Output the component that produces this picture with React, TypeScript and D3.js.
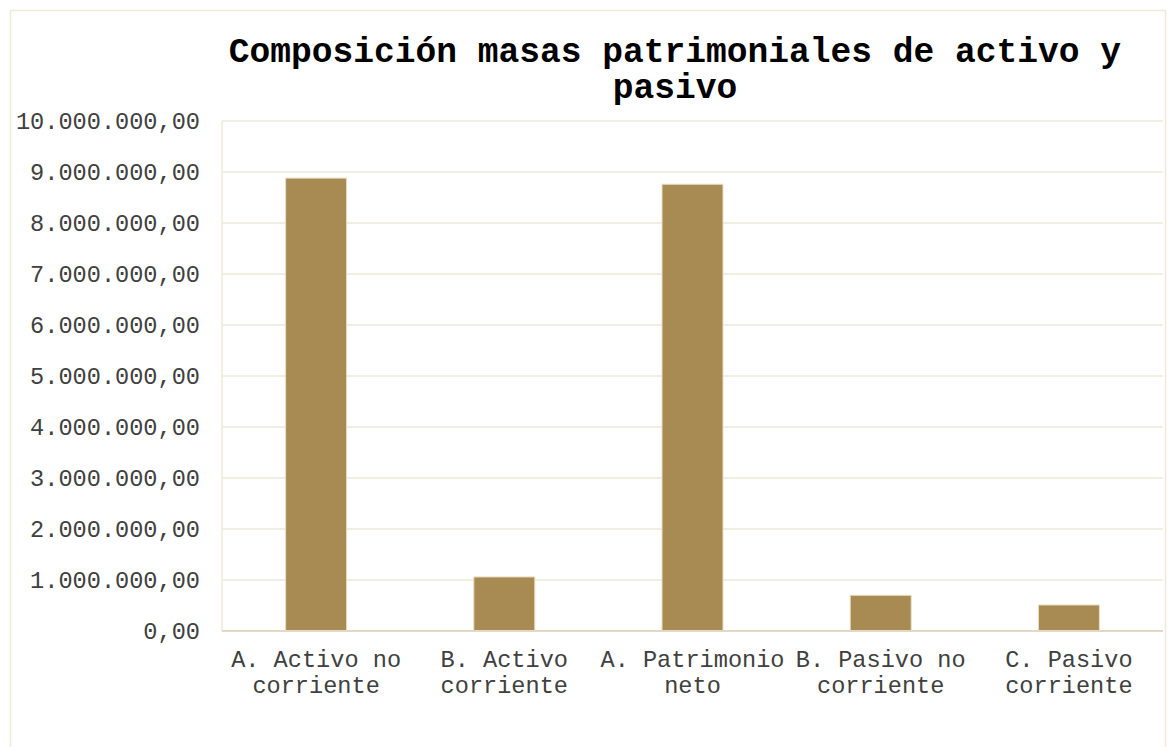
import React from "react";
import * as d3 from "d3";

const categories: string[][] = [
  ["A. Activo no", "corriente"],
  ["B. Activo", "corriente"],
  ["A. Patrimonio", "neto"],
  ["B. Pasivo no", "corriente"],
  ["C. Pasivo", "corriente"],
];
const values: number[] = [8880000, 1060000, 8760000, 700000, 510000];
const yTicks: number[] = [0, 1e6, 2e6, 3e6, 4e6, 5e6, 6e6, 7e6, 8e6, 9e6, 10e6];
const titleLines: string[] = ["Composición masas patrimoniales de activo y", "pasivo"];

const W = 1176;
const H = 747;
const plot = { left: 222, right: 1163, top: 121, bottom: 631 };

const locale = d3.formatLocale({ decimal: ",", thousands: ".", grouping: [3], currency: ["", "€"] });
const fmt = locale.format(",.2f");

export default function App() {
  const x = d3
    .scaleBand<number>()
    .domain(d3.range(categories.length))
    .range([plot.left, plot.right])
    .paddingInner(0.676)
    .paddingOuter(0.338);
  const y = d3.scaleLinear().domain([0, 10e6]).range([plot.bottom, plot.top]);
  const mono = "'Liberation Mono', 'Courier New', monospace";

  return (
    <svg width={W} height={H} style={{ position: "absolute", left: 0, top: 0 }}>
      <rect x={0} y={0} width={W} height={H} fill="#ffffff" />
      <rect x={10.5} y={10.5} width={1155} height={780} fill="#ffffff" stroke="#EFE9DC" strokeWidth={1.5} />
      {titleLines.map((t, i) => (
        <text
          key={i}
          x={675}
          y={62 + i * 36}
          textAnchor="middle"
          fontFamily={mono}
          fontWeight="bold"
          fontSize={34.6}
          fill="#000000"
        >
          {t}
        </text>
      ))}
      {yTicks.map((t) => (
        <g key={t}>
          {t > 0 && (
            <line x1={plot.left} x2={plot.right} y1={y(t)} y2={y(t)} stroke="#EEE8D9" strokeWidth={1.5} />
          )}
          <text
            x={200}
            y={y(t)}
            dy="0.35em"
            textAnchor="end"
            fontFamily={mono}
            fontSize={23.6}
            fill="#404040"
          >
            {fmt(t)}
          </text>
        </g>
      ))}
      <line x1={plot.left} x2={plot.left} y1={plot.top} y2={plot.bottom} stroke="#EEE8D9" strokeWidth={1.5} />
      {values.map((v, i) => (
        <rect
          key={i}
          x={x(i)}
          y={y(v)}
          width={x.bandwidth()}
          height={y(0) - y(v)}
          fill="#A88B52"
          stroke="#E9DDC5"
          strokeWidth={1}
        />
      ))}
      <line x1={plot.left} x2={plot.right} y1={plot.bottom} y2={plot.bottom} stroke="#E3D8C3" strokeWidth={2} />
      {categories.map((lines, i) => (
        <text
          key={i}
          x={(x(i) as number) + x.bandwidth() / 2}
          textAnchor="middle"
          fontFamily={mono}
          fontSize={23.6}
          fill="#404040"
        >
          {lines.map((l, j) => (
            <tspan key={j} x={(x(i) as number) + x.bandwidth() / 2} y={667 + j * 26}>
              {l}
            </tspan>
          ))}
        </text>
      ))}
    </svg>
  );
}
